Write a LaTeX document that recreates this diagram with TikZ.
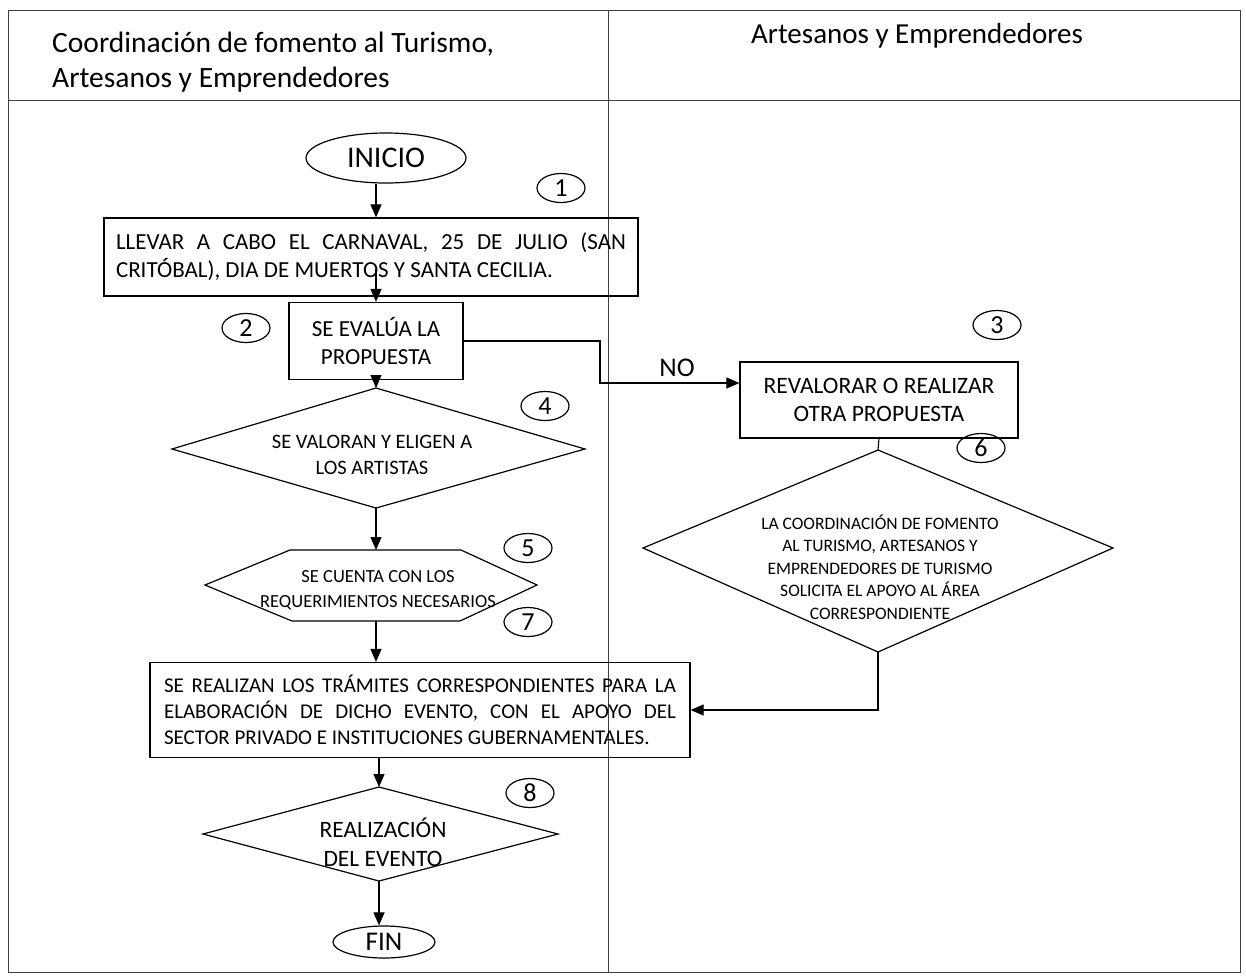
\documentclass[tikz,border=0pt]{standalone}
\usepackage{fontspec}
\setmainfont{Carlito}
\usetikzlibrary{shapes.geometric,arrows.meta,calc}
\newcommand\fsz[2]{\fontsize{#1}{#2}\selectfont}
\begin{document}
\begin{tikzpicture}[x=1pt,y=-1pt,
  frame/.style={draw=black!75, line width=1pt},
  box/.style={draw, line width=1.2pt, inner sep=0pt, font=\fsz{23}{28}},
  shp/.style={draw, line width=1.2pt, line join=miter},
  txt/.style={inner sep=0pt, align=center},
  flow/.style={line width=1.1pt, -{Triangle[length=13pt,width=11pt]}},
  plain/.style={line width=1.1pt},
  term/.style={ellipse, draw, line width=1.2pt, inner sep=0pt},
  num/.style={ellipse, draw, line width=1.2pt, minimum width=48pt, minimum height=29pt, inner sep=0pt, font=\fsz{26}{26}}]
\useasboundingbox (0,0) rectangle (1246,978);
% frame
\draw[frame] (8,10) rectangle (1240,972);
\draw[frame] (8,100) -- (1240,100);
\draw[frame] (608,10) -- (608,972);
% headers
\node[anchor=west, align=left, inner sep=0pt, font=\fsz{29.5}{35}] (hl) at (52,62) {Coordinación de fomento al Turismo,\\Artesanos y Emprendedores};
\node[inner sep=0pt, font=\fsz{29}{35}] (hr) at (917,36) {Artesanos y Emprendedores};
% nodes
\node[term, minimum width=160pt, minimum height=50pt, font=\fsz{30}{30}] (ini) at (386,158) {INICIO};
\node[box, minimum width=534pt, minimum height=78pt, text width=510pt, align=justify] (b1) at (371,257) {LLEVAR A CABO EL CARNAVAL, 25 DE JULIO (SAN\linebreak CRITÓBAL), DIA DE MUERTOS Y SANTA CECILIA.};
\node[box, minimum width=174pt, minimum height=77pt, align=center] (b2) at (376,341) {SE EVALÚA LA\\PROPUESTA};
\node[box, minimum width=278pt, minimum height=76pt, align=center, font=\fsz{23.5}{28}] (b3) at (879,400) {REVALORAR O REALIZAR\\OTRA PROPUESTA};
\node[inner sep=0pt, font=\fsz{27}{27}] (no) at (677,368) {NO};
% diamond 4
\coordinate (d4t) at (376,388); \coordinate (d4r) at (585,449);
\coordinate (d4b) at (376,508); \coordinate (d4l) at (172,449);
\draw[shp] (d4t) -- (d4r) -- (d4b) -- (d4l) -- cycle;
\node[txt, font=\fsz{20.5}{26}] (d4) at (372,455) {SE VALORAN Y ELIGEN A\\LOS ARTISTAS};
% hexagon 5
\coordinate (h5t) at (376,550); \coordinate (h5b) at (376,621);
\draw[shp] (290,550) -- (461,550) -- (537,585) -- (460,621) -- (292,621) -- (205,585) -- cycle;
\node[txt, font=\fsz{18.5}{25}] (h5) at (378,590) {SE CUENTA CON LOS\\REQUERIMIENTOS NECESARIOS};
% box 7
\node[box, minimum width=540pt, minimum height=95pt, text width=512pt, align=justify, font=\fsz{21}{26}] (b7) at (420,710) {\parfillskip=0pt SE REALIZAN LOS TRÁMITES CORRESPONDIENTES PARA LA\linebreak ELABORACIÓN DE DICHO EVENTO, CON EL APOYO DEL\linebreak SECTOR PRIVADO E INSTITUCIONES GUBERNAMENTALES.};
% diamond 6
\coordinate (d6t) at (878,450); \coordinate (d6r) at (1113,548);
\coordinate (d6b) at (878,652); \coordinate (d6l) at (643,548);
\draw[shp] (d6t) -- (d6r) -- (d6b) -- (d6l) -- cycle;
\node[txt, font=\fsz{17.5}{22.5}] (d6) at (880,567) {LA COORDINACIÓN DE FOMENTO\\AL TURISMO, ARTESANOS Y\\EMPRENDEDORES DE TURISMO\\SOLICITA EL APOYO AL ÁREA\\CORRESPONDIENTE};
% diamond 8
\coordinate (d8t) at (379,787); \coordinate (d8r) at (558,834);
\coordinate (d8b) at (379,881); \coordinate (d8l) at (203,834);
\draw[shp] (d8t) -- (d8r) -- (d8b) -- (d8l) -- cycle;
\node[txt, font=\fsz{23.5}{29}] (d8) at (383,842) {REALIZACIÓN\\DEL EVENTO};
\node[term, minimum width=102pt, minimum height=32pt, font=\fsz{27}{27}] (fin) at (384,942) {FIN};
% number ellipses
\node[num] (n1) at (561,188) {1};
\node[num] (n2) at (246,328) {2};
\node[num] (n3) at (997,325) {3};
\node[num] (n4) at (545,406) {4};
\node[num] (n5) at (528,548) {5};
\node[num] (n6) at (981,448) {6};
\node[num] (n7) at (528,622) {7};
\node[num] (n8) at (530,793) {8};
% connectors
\draw[flow] (ini.south -| b2.north) -- (b1.north -| b2.north);
\draw[flow] ($(b1.south -| b2.north)+(0,-28)$) -- (b2.north);
\draw[flow] (b2.south) -- (d4t);
\coordinate (k) at (600,383);
\draw[flow] (b2.east) -| (k) -- (k -| b3.west);
\draw[flow] (d4b) -- (h5t);
\draw[flow] (h5b) -- (h5b |- b7.north);
\draw[plain] (b3.south) -- (d6t);
\draw[flow] (d6b) -- (d6b |- b7.east) -- (b7.east);
\draw[flow] (b7.south -| d8t) -- (d8t);
\draw[flow] (d8b) -- (fin.north -| d8b);
\end{tikzpicture}
\end{document}
